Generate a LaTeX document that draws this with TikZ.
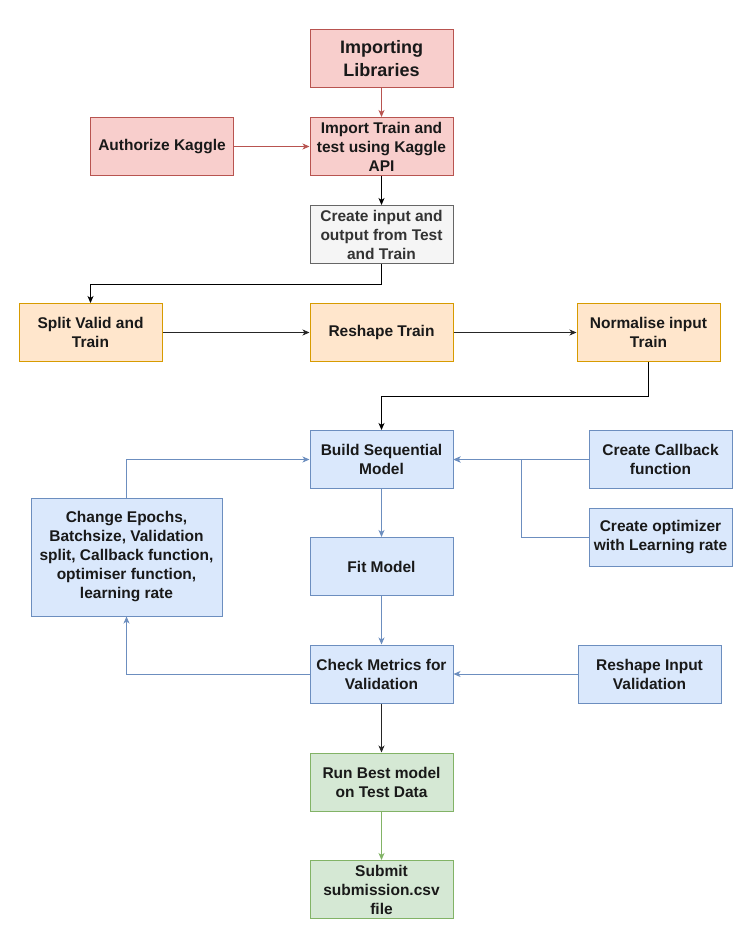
\documentclass[tikz,border=0pt]{standalone}
\usepackage{fontspec}
\setmainfont{Liberation Sans}
\usetikzlibrary{arrows.meta}
\definecolor{redfill}{HTML}{F8CECC}
\definecolor{redline}{HTML}{B85450}
\definecolor{grayfill}{HTML}{F5F5F5}
\definecolor{grayline}{HTML}{666666}
\definecolor{orangefill}{HTML}{FFE6CC}
\definecolor{orangeline}{HTML}{D79B00}
\definecolor{bluefill}{HTML}{DAE8FC}
\definecolor{blueline}{HTML}{6C8EBF}
\definecolor{greenfill}{HTML}{D5E8D4}
\definecolor{greenline}{HTML}{82B366}
\begin{document}
\begin{tikzpicture}[x=10pt, y=10pt,
  box/.style={draw, line width=1pt, rectangle, minimum width=143pt, minimum height=58pt, align=center, text=black!90, font=\fontsize{15.5}{19}\selectfont\bfseries},
  redbox/.style={box, fill=redfill, draw=redline},
  graybox/.style={box, fill=grayfill, draw=grayline, text=black!80},
  orangebox/.style={box, fill=orangefill, draw=orangeline},
  bluebox/.style={box, fill=bluefill, draw=blueline},
  greenbox/.style={box, fill=greenfill, draw=greenline},
  flow/.style={line width=0.9pt, -{Stealth[length=7pt, width=6pt, inset=2pt]}}]
\tikzstyle{every node}+=[inner sep=0pt]
\useasboundingbox (0,0) rectangle (75.2,-93.3);
\draw (38.15,-5.85) node[redbox, font=\fontsize{18}{23}\selectfont\bfseries] (lib) {Importing\\Libraries};
\draw (38.15,-14.65) node[redbox] (imp) {Import Train and\\test using Kaggle\\API};
\draw (16.2,-14.65) node[redbox] (auth) {Authorize Kaggle};
\draw (38.15,-23.45) node[graybox] (cio) {Create input and\\output from Test\\and Train};
\draw (9.05,-33.25) node[orangebox] (split) {Split Valid and\\Train};
\draw (38.15,-33.25) node[orangebox] (reshape) {Reshape Train};
\draw (64.85,-33.25) node[orangebox] (norm) {Normalise input\\Train};
\draw (38.15,-45.95) node[bluebox] (build) {Build Sequential\\Model};
\draw (66.05,-45.95) node[bluebox] (callback) {Create Callback\\function};
\draw (66.05,-53.75) node[bluebox] (optim) {Create optimizer\\with Learning rate};
\draw (12.65,-55.7) node[bluebox, minimum width=191pt, minimum height=118pt] (change) {Change Epochs,\\Batchsize, Validation\\split, Callback function,\\optimiser function,\\learning rate};
\draw (38.15,-56.65) node[bluebox] (fit) {Fit Model};
\draw (38.15,-67.4) node[bluebox] (check) {Check Metrics for\\Validation};
\draw (64.95,-67.4) node[bluebox] (rsin) {Reshape Input\\Validation};
\draw (38.15,-78.2) node[greenbox] (run) {Run Best model\\on Test Data};
\draw (38.15,-88.95) node[greenbox] (submit) {Submit\\submission.csv\\file};
\draw [flow, redline] (lib) -- (imp);
\draw [flow, redline] (auth) -- (imp);
\draw [flow, black] (imp) -- (cio);
\draw [flow, black] (cio.south) -- ++(0,-2) -| (split.north);
\draw [flow, black!85] (split) -- (reshape);
\draw [flow, black!85] (reshape) -- (norm);
\draw [flow, black] (norm.south) -- ++(0,-3.4) -| (build.north);
\draw [flow, blueline] (build) -- (fit);
\draw [flow, blueline] (fit) -- (check);
\draw [flow, blueline] (check.west) -| (change.south);
\draw [flow, blueline] (change.north) |- (build.west);
\draw [flow, blueline] (callback.west) -- (build.east);
\draw [flow, blueline] (optim.west) -- ++(-6.7,0) |- (build.east);
\draw [flow, blueline] (rsin.west) -- (check.east);
\draw [flow, black!85] (check) -- (run);
\draw [flow, greenline] (run) -- (submit);
\end{tikzpicture}
\end{document}
